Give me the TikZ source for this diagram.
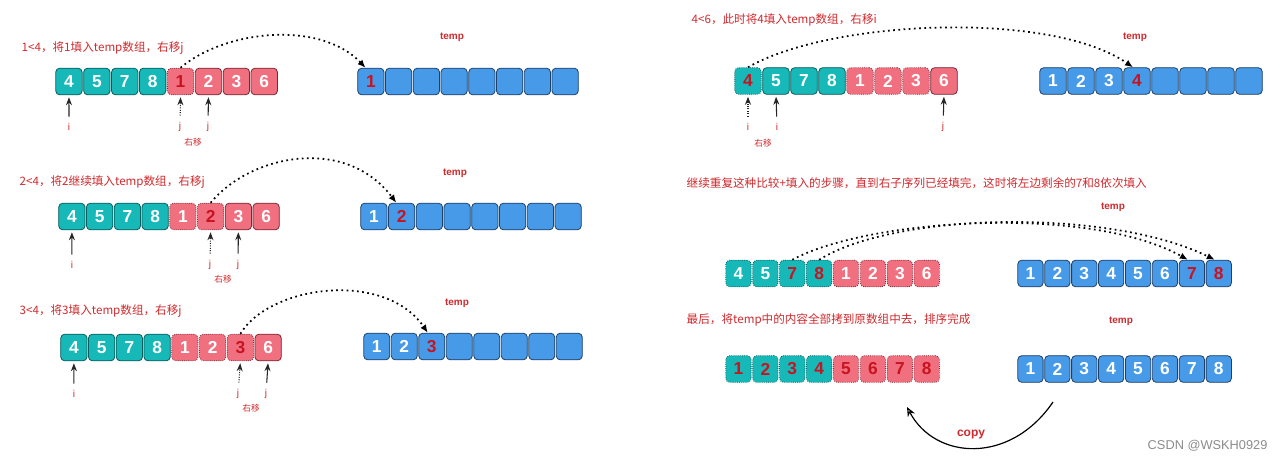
\documentclass[tikz,border=0pt]{standalone}
\usepackage{fontspec}
\setmainfont{Liberation Sans}
\newfontfamily\cjk{Noto Sans CJK SC}
\usetikzlibrary{arrows.meta}
\definecolor{tealf}{RGB}{22,184,184}
\definecolor{teald}{RGB}{12,92,92}
\definecolor{pinkf}{RGB}{241,112,128}
\definecolor{pinkd}{RGB}{120,40,52}
\definecolor{bluef}{RGB}{70,154,232}
\definecolor{blued}{RGB}{32,64,104}
\definecolor{numred}{RGB}{200,20,32}
\definecolor{titred}{RGB}{208,42,46}
\newcommand\cellrow[6]{%
  \foreach \s/\n/\c [count=\k] in {#6} {
    \node[\s, minimum width=#5pt, text=\c] (#1\k) at ({#2+(\k-0.5)*#4},#3) {\n};
  }}
\begin{document}
\begin{tikzpicture}[x=0.75pt,y=-0.75pt,
  cell/.style={draw, rounded corners=3pt, line width=0.6pt, inner sep=0pt,
    minimum height=20pt, font=\bfseries\fontsize{13}{13}\selectfont},
  tl/.style={cell, fill=tealf, draw=teald},
  tld/.style={tl, densely dotted},
  pk/.style={cell, fill=pinkf, draw=pinkd},
  pkd/.style={pk, densely dotted},
  bl/.style={cell, fill=bluef, draw=blued},
  ptr/.style={-{Stealth[length=6pt,width=4.5pt]}, line width=0.8pt, draw=black!85,
    shorten <=1.5pt, shorten >=1.5pt},
  ptrd/.style={ptr, densely dotted},
  lbl/.style={text=titred, font=\fontsize{7.5}{8}\selectfont},
  mv/.style={text=titred, font=\cjk\fontsize{6.5}{7}\selectfont},
  title/.style={anchor=west, text=titred, font=\cjk\fontsize{8.7}{10}\selectfont},
  tmp/.style={text=titred, font=\bfseries\fontsize{7.5}{8}\selectfont},
  curve/.style={line width=1.3pt, dash pattern=on 1.3pt off 2.6pt,
    -{Latex[length=6pt,width=5pt]}},
  copyarr/.style={line width=0.9pt, -{Stealth[open,length=7pt,width=6pt]}}
]
\useasboundingbox (0,0) rectangle (1280,461);
\fill[white] (0,0) rectangle (1280,461);

% ---------- Panel 1 ----------
\node[title] (t1) at (17,48) {1<4，将1填入temp数组，右移j};
\cellrow{p1a}{55}{81.5}{27.9}{19.8}{tl/4/white, tl/5/white, tl/7/white, tl/8/white, pkd/1/numred, pk/2/white, pk/3/white, pk/6/white}
\cellrow{p1t}{357}{81.5}{27.75}{19.7}{bl/1/numred, bl/{}/white, bl/{}/white, bl/{}/white, bl/{}/white, bl/{}/white, bl/{}/white, bl/{}/white}
\node[tmp] (m1) at (452,37) {temp};
\node[lbl] (p1i) at (69,127) {i};
\node[lbl] (p1j0) at (180,127) {j};
\node[lbl] (p1j1) at (208,127) {j};
\node[mv] (p1r) at (193,142) {右移};
\draw[ptr] (p1i) -- (p1a1.south);
\draw[ptrd] (p1j0) -- (p1a5.south);
\draw[ptr] (p1j1) -- (p1a6.south);
\draw[curve] (p1a5.north) .. controls (225,30) and (320,20) .. ([xshift=-4pt]p1t1.north);

% ---------- Panel 2 ----------
\node[title] (t2) at (15,182) {2<4，将2继续填入temp数组，右移j};
\cellrow{p2a}{58}{216.5}{27.75}{19.7}{tl/4/white, tl/5/white, tl/7/white, tl/8/white, pkd/1/white, pkd/2/numred, pk/3/white, pk/6/white}
\cellrow{p2t}{360}{216.5}{27.75}{19.7}{bl/1/white, bl/2/numred, bl/{}/white, bl/{}/white, bl/{}/white, bl/{}/white, bl/{}/white, bl/{}/white}
\node[tmp] (m2) at (455,173) {temp};
\node[lbl] (p2i) at (72,265) {i};
\node[lbl] (p2j0) at (210,265) {j};
\node[lbl] (p2j1) at (238,265) {j};
\node[mv] (p2r) at (223,279) {右移};
\draw[ptr] (p2i) -- (p2a1.south);
\draw[ptrd] (p2j0) -- (p2a6.south);
\draw[ptr] (p2j1) -- (p2a7.south);
\draw[curve] (p2a6.north) .. controls (250,155) and (345,135) .. ([xshift=-4pt]p2t2.north);

% ---------- Panel 3 ----------
\node[title] (t3) at (15,311) {3<4，将3填入temp数组，右移j};
\cellrow{p3a}{60}{347.5}{27.75}{19.7}{tl/4/white, tl/5/white, tl/7/white, tl/8/white, pkd/1/white, pkd/2/white, pkd/3/numred, pk/6/white}
\cellrow{p3t}{363}{346.5}{27.5}{19.5}{bl/1/white, bl/2/white, bl/3/numred, bl/{}/white, bl/{}/white, bl/{}/white, bl/{}/white, bl/{}/white}
\node[tmp] (m3) at (457,303) {temp};
\node[lbl] (p3i) at (74,394) {i};
\node[lbl] (p3j0) at (238,394) {j};
\node[lbl] (p3j1) at (266,394) {j};
\node[mv] (p3r) at (251,408) {右移};
\draw[ptr] (p3i) -- (p3a1.south);
\draw[ptrd] (p3j0) -- (p3a7.south);
\draw[ptr] (p3j1) -- (p3a8.south);
\draw[curve] (p3a7.north) .. controls (270,285) and (385,270) .. ([xshift=-3pt]p3t3.north);

% ---------- Right panel 1 ----------
\node[title] (t4) at (687,20) {4<6，此时将4填入temp数组，右移i};
\cellrow{r1a}{734}{81}{28}{19.9}{tld/4/numred, tl/5/white, tl/7/white, tl/8/white, pkd/1/white, pkd/2/white, pkd/3/white, pk/6/white}
\cellrow{r1t}{1039}{81}{28}{19.9}{bl/1/white, bl/2/white, bl/3/white, bl/4/numred, bl/{}/white, bl/{}/white, bl/{}/white, bl/{}/white}
\node[tmp] (m4) at (1135,37) {temp};
\node[lbl] (r1i0) at (748,127) {i};
\node[lbl] (r1i1) at (777,127) {i};
\node[lbl] (r1j) at (943,127) {j};
\node[mv] (r1r) at (763,143) {右移};
\draw[ptrd] (r1i0) -- (r1a1.south);
\draw[ptr] (r1i1) -- (r1a2.south);
\draw[ptr] (r1j) -- (r1a8.south);
\draw[curve] (r1a1.north) .. controls (830,20) and (1050,10) .. ([xshift=-3pt]r1t4.north);

% ---------- Right panel 2 ----------
\node[title] (t5) at (682,183) {继续重复这种比较+填入的步骤，直到右子序列已经填完，这时将左边剩余的7和8依次填入};
\cellrow{r2a}{725}{273.5}{26.9}{19}{tld/4/white, tld/5/white, tld/7/numred, tld/8/numred, pkd/1/white, pkd/2/white, pkd/3/white, pkd/6/white}
\cellrow{r2t}{1017}{273.5}{26.9}{19}{bl/1/white, bl/2/white, bl/3/white, bl/4/white, bl/5/white, bl/6/white, bl/7/numred, bl/8/numred}
\node[tmp] (m5) at (1113,207) {temp};
\draw[curve] (r2a3.north) .. controls (870,218) and (1090,205) .. ([xshift=-3pt]r2t7.north);
\draw[curve] (r2a4.north) .. controls (895,212) and (1110,208) .. ([xshift=-3pt]r2t8.north);

% ---------- Right panel 3 ----------
\node[title] (t6) at (682,320) {最后，将temp中的内容全部拷到原数组中去，排序完成};
\cellrow{r3a}{725}{369}{26.9}{19}{tld/1/numred, tld/2/numred, tld/3/numred, tld/4/numred, pkd/5/numred, pkd/6/numred, pkd/7/numred, pkd/8/numred}
\cellrow{r3t}{1017}{369}{26.9}{19}{bl/1/white, bl/2/white, bl/3/white, bl/4/white, bl/5/white, bl/6/white, bl/7/white, bl/8/white}
\node[tmp] (m6) at (1121,321) {temp};
\coordinate (cpA) at (1053,402);
\coordinate (cpB) at (907,407);
\draw[copyarr] (cpA) .. controls (1010,465) and (935,460) .. (cpB);
\node[text=titred, font=\bfseries\fontsize{9}{10}\selectfont] (cp) at (971,434) {copy};
\node[anchor=west, text=black!45, font=\fontsize{9.6}{10}\selectfont] (wm) at (1143,446) {CSDN @WSKH0929};
\end{tikzpicture}
\end{document}
